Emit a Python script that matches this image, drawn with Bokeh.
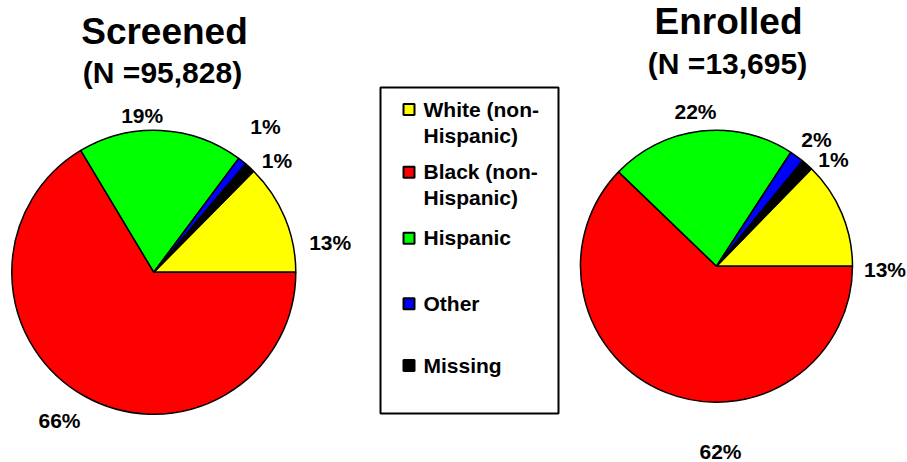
import math
from bokeh.plotting import figure
from bokeh.models import Range1d
from bokeh.core.properties import value
from bokeh.embed import file_html
from bokeh.resources import INLINE

# ---------------- data ----------------
categories = ["White (non-\nHispanic)", "Black (non-\nHispanic)", "Hispanic", "Other", "Missing"]
colors = ["#FFFF00", "#FF0000", "#00FF00", "#0000FF", "#000000"]

screened_title = "Screened"
screened_n = "(N =95,828)"
screened_values = [12.6, 66.4, 18.8, 1.0, 1.2]
screened_labels = ["13%", "66%", "19%", "1%", "1%"]

enrolled_title = "Enrolled"
enrolled_n = "(N =13,695)"
enrolled_values = [12.7, 62.2, 22.0, 1.7, 1.4]
enrolled_labels = ["13%", "62%", "22%", "2%", "1%"]

# ---------------- layout ----------------
W, H = 907, 462
FONT = value("Liberation Sans")
LBL_FS = 21
TITLE_FS = 37
N_FS = 30
ADJ = 0.38  # baseline correction (fraction of font size)


def Y(sy):
    return H - sy


def TY(sy, fs):
    return H - (sy - ADJ * fs)


p = figure(width=W, height=H, output_backend="svg", toolbar_location=None,
           x_range=Range1d(0, W), y_range=Range1d(0, H),
           x_axis_location=None, y_axis_location=None, min_border=0)
p.grid.visible = False
p.outline_line_color = None
p.background_fill_color = "white"
p.border_fill_color = "white"

pies = [
    dict(cx=153.3, cy=271.7, r=142, values=screened_values, labels=screened_labels,
         label_pos=[(329.7, 250), (59, 428), (141.7, 123), (265, 134), (276.5, 168)],
         title=screened_title, n=screened_n, tx=164, ty=45, nx=162, ny=83),
    dict(cx=716, cy=265.7, r=136, values=enrolled_values, labels=enrolled_labels,
         label_pos=[(884.5, 277), (720, 459), (695, 119), (816, 147), (833, 167)],
         title=enrolled_title, n=enrolled_n, tx=728, ty=35, nx=727, ny=74),
]

for pie in pies:
    vals = pie["values"]
    total = sum(vals)
    start = 2 * math.pi * vals[0] / total  # first slice ends at 0 rad (3 o'clock)
    hi = start
    starts, ends = [], []
    for v in vals:
        lo = hi - 2 * math.pi * v / total
        starts.append(lo)
        ends.append(hi)
        hi = lo
    p.wedge(x=[pie["cx"]] * len(vals), y=[Y(pie["cy"])] * len(vals), radius=pie["r"],
            start_angle=starts, end_angle=ends, direction="anticlock",
            fill_color=colors, line_color="black", line_width=1.5)
    lx = [q[0] for q in pie["label_pos"]]
    ly = [TY(q[1], LBL_FS) for q in pie["label_pos"]]
    p.text(x=lx, y=ly, text=pie["labels"], text_align="center", text_baseline="alphabetic",
           text_font=FONT, text_font_style="bold", text_font_size=f"{LBL_FS}px",
           text_color="black")
    p.text(x=[pie["tx"]], y=[TY(pie["ty"], TITLE_FS)], text=[pie["title"]], text_align="center",
           text_baseline="alphabetic", text_font=FONT, text_font_style="bold",
           text_font_size=f"{TITLE_FS}px", text_color="black")
    p.text(x=[pie["nx"]], y=[TY(pie["ny"], N_FS)], text=[pie["n"]], text_align="center",
           text_baseline="alphabetic", text_font=FONT, text_font_style="bold",
           text_font_size=f"{N_FS}px", text_color="black")

# ---------------- legend ----------------
box_l, box_t, box_r, box_b = 380, 87, 558, 413
p.quad(left=[box_l], right=[box_r], top=[Y(box_t)], bottom=[Y(box_b)],
       fill_color="white", line_color="black", line_width=2)

sq_x = 408.5
sq_y = [109, 171.7, 237.7, 303.3, 365]
p.rect(x=[sq_x] * len(categories), y=[Y(v) for v in sq_y], width=11, height=11,
       fill_color=colors, line_color="black", line_width=2)

tx, ty, tt = [], [], []
for cat, cy in zip(categories, sq_y):
    for i, line in enumerate(cat.split("\n")):
        tx.append(423)
        ty.append(TY(cy + 7.5 + 26 * i, LBL_FS))
        tt.append(line)
p.text(x=tx, y=ty, text=tt, text_align="left", text_baseline="alphabetic",
       text_font=FONT, text_font_style="bold", text_font_size=f"{LBL_FS}px",
       text_color="black")

open("out.html", "w").write(file_html(p, INLINE))
